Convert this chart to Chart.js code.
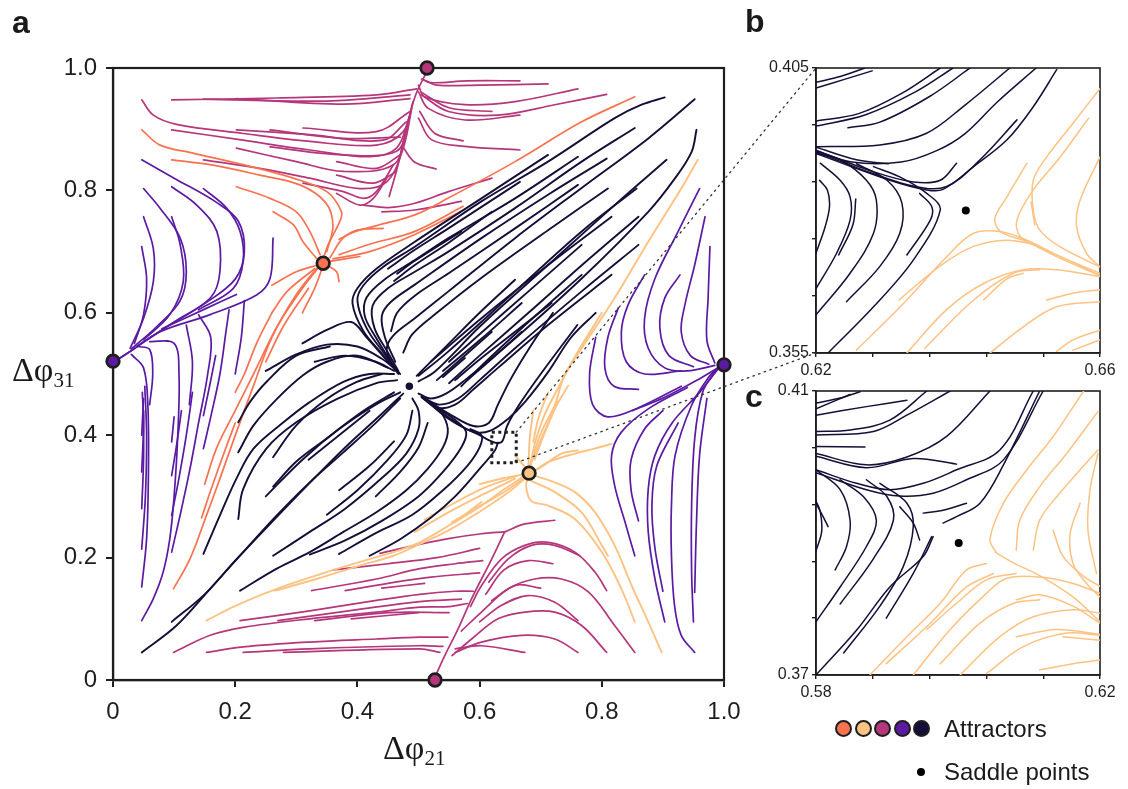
<!DOCTYPE html>
<html>
<head>
<meta charset="utf-8">
<script src="https://cdn.jsdelivr.net/npm/chart.js@4.4.1/dist/chart.umd.min.js"></script>
<style>
  body { margin:0; width:1128px; height:789px; background:#fff; position:relative; overflow:hidden;
         font-family:'Liberation Sans', Arial, sans-serif; color:#1a1a1a; }
  canvas { position:absolute; }
  .panel { position:absolute; font-weight:bold; font-size:32px; line-height:32px; }
  .ttl { position:absolute; font-family:'Liberation Serif', 'Times New Roman', serif; font-size:34px; line-height:34px; white-space:nowrap; }
  .ttl sub { font-size:21px; vertical-align:-6px; line-height:0; }
  .dot { position:absolute; width:13px; height:13px; border-radius:50%; border:2.5px solid #1e1e1e; }
  .leg { position:absolute; font-size:24px; line-height:24px; white-space:nowrap; }
</style>
</head>
<body>
<canvas id="main" width="740" height="789" style="left:0;top:0"></canvas>
<canvas id="zoomB" width="388" height="345" style="left:740px;top:40px"></canvas>
<canvas id="zoomC" width="388" height="345" style="left:740px;top:370px"></canvas>
<canvas id="links" width="1128" height="789" style="left:0;top:0;pointer-events:none"></canvas>

<div class="panel" style="left:12px;top:6px">a</div>
<div class="panel" style="left:745px;top:5px">b</div>
<div class="panel" style="left:745px;top:380px">c</div>
<div class="ttl" style="left:383px;top:731px">Δφ<sub>21</sub></div>
<div class="ttl" style="left:12px;top:353px">Δφ<sub>31</sub></div>

<div id="legend"></div>

<script>
// magma-like basin colours
const COLORS = { orange:'#f97250', light:'#fec283', magenta:'#b5367a', purple:'#5b1aa3', dark:'#150e37' };

// attractors of the main phase portrait
const attractorX = [0.344, 0.681, 0.514, 0.527, 0.0, 1.0, 0.485];
const attractorY = [0.681, 0.338, 1.0, 0.0, 0.521, 0.515, 0.48];
const attractorKind = ['orange', 'light', 'magenta', 'magenta', 'purple', 'purple', 'dark'];

// saddle points shown in the insets
const saddleB = [0.6411, 0.380];
const saddleC = [0.6001, 0.3886];

// inset window drawn in panel a
const insetX = [0.62, 0.66];
const insetY = [0.355, 0.405];

// axis ticks
const mainTicks = [0, 0.2, 0.4, 0.6, 0.8, 1.0];
const bTicksX = [0.62, 0.628, 0.636, 0.644, 0.652, 0.66];
const bTicksY = [0.355, 0.365, 0.375, 0.385, 0.395, 0.405];
const cTicksX = [0.58, 0.588, 0.596, 0.604, 0.612, 0.62];
const cTicksY = [0.37, 0.378, 0.386, 0.394, 0.402, 0.41];

// streamlines, [dphi21, dphi31] points
const magentaTop = [
  [[0.096,0.948],[0.268,0.951],[0.431,0.956],[0.497,0.966]],
  [[0.148,0.949],[0.35,0.946],[0.486,0.956]],
  [[0.202,0.95],[0.377,0.941],[0.486,0.95]],
  [[0.047,0.948],[0.066,0.923],[0.104,0.908],[0.213,0.893],[0.322,0.88],[0.431,0.874],[0.475,0.896],[0.491,0.945]],
  [[0.096,0.899],[0.213,0.882],[0.322,0.866],[0.42,0.855],[0.464,0.869],[0.486,0.923]],
  [[0.202,0.899],[0.322,0.891],[0.442,0.882],[0.48,0.912]],
  [[0.257,0.899],[0.377,0.885],[0.47,0.887]],
  [[0.148,0.85],[0.24,0.836],[0.322,0.82],[0.404,0.803],[0.448,0.814],[0.475,0.869],[0.489,0.934]],
  [[0.202,0.869],[0.3,0.847],[0.377,0.831],[0.459,0.842],[0.48,0.896]],
  [[0.311,0.812],[0.377,0.798],[0.41,0.787],[0.431,0.798],[0.459,0.842]],
  [[0.366,0.795],[0.404,0.776],[0.426,0.787],[0.448,0.82]],
  [[0.257,0.871],[0.377,0.858],[0.464,0.864],[0.483,0.907]],
  [[0.311,0.902],[0.431,0.896],[0.486,0.929]],
  [[0.366,0.847],[0.431,0.836],[0.47,0.858]],
  [[0.366,0.825],[0.426,0.812],[0.464,0.831]],
  [[0.666,0.979],[0.58,0.979],[0.52,0.976],[0.505,0.982]],
  [[0.712,0.974],[0.6,0.972],[0.53,0.972],[0.51,0.98]],
  [[0.761,0.966],[0.658,0.945],[0.576,0.94],[0.51,0.953],[0.5,0.972]],
  [[0.808,0.957],[0.723,0.94],[0.63,0.923],[0.549,0.929],[0.505,0.956]],
  [[0.62,0.929],[0.55,0.935],[0.505,0.96]],
  [[0.666,0.923],[0.576,0.915],[0.516,0.934],[0.5,0.961]],
  [[0.573,0.881],[0.527,0.893],[0.502,0.929]],
  [[0.666,0.866],[0.576,0.872],[0.521,0.883],[0.5,0.918]],
  [[0.62,0.82],[0.549,0.798],[0.494,0.779],[0.45,0.772],[0.41,0.776]],
  [[0.529,0.835],[0.494,0.846],[0.475,0.87]],
  [[0.57,0.782],[0.494,0.768],[0.44,0.765]],
  [[0.452,0.79],[0.466,0.84],[0.48,0.9],[0.495,0.955],[0.514,0.995]]
];

const magentaBottom = [
  [[0.527,0.005],[0.543,0.04],[0.565,0.084],[0.587,0.133],[0.62,0.198],[0.641,0.242]],
  [[0.641,0.242],[0.674,0.255],[0.723,0.261]],
  [[0.437,0.207],[0.494,0.22],[0.549,0.231],[0.603,0.239],[0.641,0.242]],
  [[0.808,0.146],[0.789,0.176],[0.756,0.209],[0.712,0.225],[0.674,0.22],[0.636,0.198],[0.603,0.154],[0.585,0.12]],
  [[0.854,0.045],[0.821,0.089],[0.778,0.144],[0.734,0.165],[0.69,0.165],[0.647,0.149],[0.603,0.111],[0.57,0.08]],
  [[0.808,0.045],[0.767,0.089],[0.723,0.111],[0.674,0.111],[0.63,0.1],[0.587,0.067],[0.555,0.04]],
  [[0.761,0.097],[0.723,0.127],[0.679,0.138],[0.636,0.122],[0.6,0.095]],
  [[0.761,0.045],[0.723,0.067],[0.669,0.073],[0.603,0.062],[0.56,0.045]],
  [[0.764,0.203],[0.723,0.22],[0.685,0.22],[0.647,0.198],[0.615,0.16]],
  [[0.674,0.045],[0.603,0.056],[0.56,0.051]],
  [[0.72,0.19],[0.68,0.195],[0.64,0.18],[0.61,0.14]],
  [[0.7,0.15],[0.66,0.155],[0.62,0.13]],
  [[0.099,0.045],[0.159,0.073],[0.213,0.086],[0.322,0.1],[0.431,0.111],[0.502,0.119],[0.55,0.12],[0.58,0.125]],
  [[0.153,0.045],[0.213,0.054],[0.322,0.062],[0.431,0.067],[0.502,0.07],[0.548,0.07]],
  [[0.213,0.045],[0.322,0.051],[0.502,0.056],[0.54,0.055]],
  [[0.279,0.045],[0.502,0.051],[0.535,0.045]],
  [[0.208,0.097],[0.322,0.113],[0.431,0.13],[0.502,0.14],[0.56,0.145],[0.59,0.145]],
  [[0.27,0.097],[0.4,0.115],[0.502,0.128],[0.57,0.132]],
  [[0.33,0.097],[0.45,0.11],[0.55,0.11]],
  [[0.39,0.1],[0.5,0.11]],
  [[0.325,0.146],[0.431,0.165],[0.502,0.182],[0.56,0.19],[0.605,0.195]],
  [[0.38,0.146],[0.45,0.158],[0.52,0.168],[0.6,0.175]],
  [[0.44,0.15],[0.51,0.158]],
  [[0.36,0.18],[0.45,0.19],[0.53,0.2],[0.6,0.215]]
];

const orangeLines = [
  [[0.047,0.899],[0.077,0.874],[0.131,0.861],[0.213,0.842],[0.295,0.82],[0.35,0.798],[0.374,0.765],[0.371,0.749],[0.352,0.711],[0.344,0.688]],
  [[0.096,0.85],[0.159,0.842],[0.24,0.825],[0.306,0.809],[0.348,0.78],[0.36,0.743],[0.35,0.7]],
  [[0.202,0.806],[0.257,0.787],[0.3,0.765],[0.322,0.733],[0.339,0.695]],
  [[0.262,0.765],[0.295,0.744],[0.311,0.716],[0.333,0.689]],
  [[0.854,0.953],[0.767,0.912],[0.658,0.847],[0.548,0.787],[0.494,0.76],[0.43,0.742],[0.38,0.725],[0.355,0.69]],
  [[0.573,0.774],[0.494,0.733],[0.42,0.712],[0.37,0.695]],
  [[0.57,0.766],[0.494,0.728],[0.42,0.7],[0.36,0.688]],
  [[0.442,0.738],[0.4,0.735],[0.37,0.72]],
  [[0.404,0.692],[0.355,0.684]],
  [[0.099,0.149],[0.126,0.198],[0.153,0.269],[0.175,0.329],[0.202,0.405],[0.23,0.481],[0.26,0.56],[0.3,0.63],[0.335,0.675]],
  [[0.15,0.32],[0.17,0.38],[0.2,0.44],[0.23,0.5],[0.27,0.58],[0.31,0.64],[0.338,0.676]],
  [[0.145,0.265],[0.16,0.31],[0.185,0.38],[0.2,0.42]],
  [[0.2,0.47],[0.215,0.5],[0.235,0.55],[0.26,0.6]],
  [[0.26,0.6],[0.285,0.635],[0.33,0.672]],
  [[0.26,0.645],[0.3,0.667],[0.335,0.678]],
  [[0.37,0.651],[0.366,0.667],[0.35,0.678]],
  [[0.31,0.6],[0.33,0.64],[0.342,0.672]],
  [[0.25,0.52],[0.28,0.58],[0.32,0.64]]
];

const lightLines = [
  [[0.957,0.85],[0.93,0.803],[0.876,0.716],[0.821,0.624],[0.767,0.542],[0.739,0.498],[0.723,0.449],[0.701,0.405],[0.686,0.361],[0.682,0.345]],
  [[0.8,0.6],[0.76,0.535],[0.73,0.48],[0.705,0.43],[0.69,0.385],[0.683,0.35]],
  [[0.153,0.097],[0.202,0.122],[0.268,0.149],[0.333,0.171],[0.404,0.193],[0.459,0.209],[0.502,0.225],[0.549,0.252],[0.603,0.285],[0.641,0.312],[0.674,0.334]],
  [[0.265,0.146],[0.333,0.165],[0.404,0.187],[0.459,0.203],[0.502,0.222],[0.55,0.245],[0.6,0.275],[0.645,0.305],[0.675,0.33]],
  [[0.494,0.242],[0.549,0.274],[0.603,0.302],[0.658,0.329]],
  [[0.51,0.262],[0.56,0.29],[0.61,0.315],[0.66,0.333]],
  [[0.555,0.258],[0.6,0.284],[0.645,0.31],[0.67,0.328]],
  [[0.6,0.32],[0.64,0.33],[0.672,0.336]],
  [[0.688,0.441],[0.682,0.394],[0.68,0.35]],
  [[0.728,0.455],[0.705,0.4],[0.69,0.36]],
  [[0.712,0.47],[0.696,0.427],[0.688,0.389]],
  [[0.745,0.481],[0.723,0.443],[0.701,0.394],[0.685,0.356]],
  [[0.658,0.367],[0.677,0.345]],
  [[0.761,0.375],[0.734,0.37],[0.701,0.348],[0.688,0.34]],
  [[0.816,0.386],[0.788,0.378],[0.756,0.37],[0.712,0.356],[0.69,0.342]],
  [[0.898,0.045],[0.876,0.095],[0.849,0.154],[0.821,0.22],[0.789,0.274],[0.756,0.307],[0.723,0.323],[0.69,0.334]],
  [[0.854,0.095],[0.832,0.149],[0.8,0.209],[0.756,0.263],[0.712,0.285],[0.684,0.293],[0.676,0.318],[0.68,0.333]],
  [[0.81,0.203],[0.8,0.22],[0.767,0.274],[0.723,0.307],[0.685,0.325]],
  [[0.56,0.258],[0.603,0.291]]
];

const purpleLeft = [
  [[0.047,0.85],[0.1,0.82],[0.17,0.78],[0.205,0.75],[0.215,0.7],[0.2,0.655],[0.15,0.615],[0.08,0.572],[0.03,0.538],[0.005,0.522]],
  [[0.05,0.803],[0.077,0.771],[0.11,0.722],[0.12,0.667],[0.11,0.62],[0.07,0.576],[0.03,0.541]],
  [[0.096,0.806],[0.137,0.776],[0.17,0.733],[0.175,0.667],[0.16,0.625],[0.1,0.585],[0.04,0.546]],
  [[0.148,0.803],[0.186,0.771],[0.208,0.733],[0.213,0.684],[0.197,0.64],[0.14,0.605]],
  [[0.05,0.757],[0.066,0.705],[0.066,0.651],[0.05,0.591],[0.028,0.542]],
  [[0.096,0.757],[0.11,0.711],[0.115,0.651],[0.093,0.597],[0.05,0.556]],
  [[0.047,0.708],[0.055,0.656],[0.05,0.597],[0.035,0.55]],
  [[0.262,0.722],[0.257,0.656],[0.235,0.629],[0.159,0.597],[0.077,0.569],[0.028,0.537],[0.005,0.522]],
  [[0.202,0.63],[0.15,0.606],[0.08,0.574]],
  [[0.047,0.152],[0.055,0.231],[0.058,0.34],[0.057,0.45],[0.05,0.51],[0.03,0.532]],
  [[0.047,0.097],[0.066,0.133],[0.082,0.176],[0.093,0.231],[0.1,0.3],[0.106,0.4],[0.108,0.5],[0.1,0.55],[0.06,0.553]],
  [[0.047,0.214],[0.053,0.3],[0.055,0.4],[0.052,0.48]],
  [[0.047,0.28],[0.05,0.36],[0.05,0.44]],
  [[0.047,0.34],[0.05,0.42],[0.048,0.47]],
  [[0.047,0.4],[0.05,0.46]],
  [[0.096,0.209],[0.11,0.27],[0.125,0.34],[0.14,0.42],[0.155,0.5],[0.16,0.56],[0.14,0.597]],
  [[0.096,0.269],[0.108,0.33],[0.12,0.4],[0.13,0.47]],
  [[0.096,0.334],[0.105,0.39],[0.112,0.44]],
  [[0.096,0.389],[0.1,0.43]],
  [[0.148,0.378],[0.16,0.43],[0.175,0.5],[0.185,0.57],[0.19,0.605]],
  [[0.148,0.432],[0.158,0.48],[0.168,0.53]],
  [[0.06,0.45],[0.065,0.5],[0.06,0.54],[0.04,0.545]],
  [[0.125,0.45],[0.13,0.52],[0.12,0.58]],
  [[0.2,0.5],[0.21,0.56],[0.215,0.62]]
];

const purpleRight = [
  [[0.96,0.803],[0.925,0.733],[0.887,0.656],[0.87,0.591],[0.876,0.542],[0.903,0.51],[0.94,0.505],[0.985,0.514]],
  [[0.969,0.757],[0.952,0.678],[0.936,0.613],[0.93,0.569],[0.945,0.53],[0.975,0.516]],
  [[0.977,0.708],[0.974,0.624],[0.972,0.555],[0.985,0.518]],
  [[0.928,0.662],[0.903,0.624],[0.895,0.575],[0.91,0.53],[0.95,0.512]],
  [[0.87,0.662],[0.843,0.613],[0.832,0.569],[0.84,0.52],[0.87,0.5],[0.93,0.505]],
  [[0.827,0.608],[0.81,0.56],[0.805,0.51],[0.82,0.48],[0.86,0.475]],
  [[0.79,0.56],[0.78,0.5],[0.785,0.45],[0.81,0.43],[0.86,0.445],[0.93,0.48]],
  [[0.952,0.045],[0.93,0.073],[0.919,0.122],[0.914,0.203],[0.914,0.285],[0.92,0.367],[0.947,0.449],[0.975,0.495],[0.99,0.51]],
  [[0.95,0.095],[0.947,0.176],[0.947,0.285],[0.952,0.394],[0.965,0.47],[0.985,0.505]],
  [[0.952,0.143],[0.955,0.258],[0.96,0.367],[0.972,0.46]],
  [[0.903,0.095],[0.887,0.165],[0.876,0.242],[0.876,0.312],[0.887,0.367],[0.915,0.42],[0.96,0.47],[0.99,0.508]],
  [[0.9,0.145],[0.887,0.215],[0.882,0.285],[0.89,0.35],[0.925,0.42]],
  [[0.854,0.203],[0.838,0.258],[0.821,0.318],[0.816,0.367],[0.832,0.405],[0.876,0.443],[0.94,0.478]],
  [[0.86,0.26],[0.848,0.31],[0.848,0.36],[0.87,0.41],[0.9,0.44]],
  [[0.85,0.44],[0.903,0.462],[0.963,0.494],[0.995,0.513]]
];

const darkLines = [
  [[0.712,0.858],[0.603,0.787],[0.494,0.716],[0.431,0.672],[0.4,0.64],[0.392,0.615],[0.41,0.57],[0.442,0.531],[0.467,0.5]],
  [[0.903,0.952],[0.865,0.94],[0.821,0.918],[0.712,0.847],[0.603,0.782],[0.494,0.708],[0.442,0.675],[0.41,0.645],[0.4,0.62],[0.415,0.575],[0.445,0.532],[0.467,0.502]],
  [[0.761,0.855],[0.658,0.787],[0.549,0.722],[0.494,0.686],[0.445,0.655],[0.415,0.625],[0.412,0.595],[0.43,0.56],[0.455,0.52]],
  [[0.854,0.902],[0.767,0.847],[0.658,0.771],[0.549,0.7],[0.494,0.667],[0.45,0.64],[0.425,0.612],[0.428,0.575],[0.45,0.535],[0.467,0.505]],
  [[0.666,0.814],[0.549,0.738],[0.494,0.703],[0.45,0.672]],
  [[0.62,0.765],[0.55,0.715],[0.494,0.678],[0.46,0.652]],
  [[0.57,0.733],[0.494,0.685],[0.465,0.664]],
  [[0.808,0.852],[0.712,0.793],[0.603,0.722],[0.494,0.646],[0.455,0.618],[0.44,0.595],[0.445,0.56],[0.462,0.52]],
  [[0.761,0.809],[0.658,0.738],[0.55,0.665],[0.494,0.628],[0.465,0.6],[0.455,0.57]],
  [[0.81,0.803],[0.712,0.735],[0.6,0.655],[0.53,0.6],[0.49,0.565],[0.475,0.535]],
  [[0.952,0.949],[0.876,0.885],[0.767,0.804],[0.658,0.722],[0.549,0.635],[0.494,0.591],[0.458,0.562],[0.448,0.54],[0.458,0.515],[0.47,0.5]],
  [[0.857,0.803],[0.767,0.733],[0.658,0.635],[0.549,0.537],[0.5,0.497]],
  [[0.816,0.757],[0.712,0.678],[0.603,0.591],[0.52,0.52]],
  [[0.906,0.85],[0.821,0.776],[0.712,0.678],[0.603,0.58],[0.527,0.504],[0.5,0.488]],
  [[0.658,0.654],[0.6,0.6],[0.55,0.55],[0.497,0.497]],
  [[0.955,0.899],[0.947,0.863],[0.92,0.82],[0.876,0.765],[0.767,0.656],[0.658,0.558],[0.576,0.49],[0.545,0.468],[0.52,0.46],[0.5,0.468]],
  [[0.86,0.757],[0.77,0.68],[0.68,0.6],[0.6,0.53],[0.55,0.485]],
  [[0.767,0.711],[0.68,0.635],[0.6,0.565],[0.55,0.52]],
  [[0.86,0.711],[0.767,0.635],[0.658,0.542],[0.6,0.49],[0.565,0.46],[0.535,0.45],[0.51,0.46]],
  [[0.767,0.662],[0.68,0.585],[0.61,0.52],[0.57,0.48]],
  [[0.816,0.662],[0.712,0.58],[0.63,0.51],[0.59,0.475],[0.56,0.45],[0.53,0.445],[0.505,0.463]],
  [[0.669,0.616],[0.6,0.555],[0.54,0.505]],
  [[0.718,0.616],[0.658,0.569],[0.603,0.526],[0.56,0.49]],
  [[0.669,0.569],[0.62,0.525],[0.58,0.49]],
  [[0.62,0.569],[0.57,0.525],[0.53,0.49]],
  [[0.576,0.526],[0.54,0.495]],
  [[0.79,0.6],[0.75,0.56],[0.712,0.503],[0.674,0.454],[0.647,0.427],[0.619,0.408],[0.592,0.405],[0.549,0.427],[0.51,0.459]],
  [[0.76,0.58],[0.7,0.5],[0.665,0.45],[0.645,0.415],[0.637,0.39],[0.625,0.388],[0.6,0.4],[0.57,0.415],[0.53,0.443],[0.505,0.462]],
  [[0.72,0.6],[0.68,0.54],[0.65,0.49],[0.63,0.45],[0.615,0.42],[0.59,0.415],[0.55,0.435],[0.51,0.46]],
  [[0.047,0.045],[0.104,0.089],[0.159,0.149],[0.213,0.209],[0.268,0.269],[0.322,0.323],[0.377,0.372],[0.431,0.421],[0.47,0.46]],
  [[0.096,0.095],[0.15,0.14],[0.2,0.195],[0.26,0.258],[0.32,0.32],[0.38,0.38],[0.44,0.435],[0.475,0.468]],
  [[0.148,0.206],[0.175,0.269],[0.202,0.329],[0.23,0.378],[0.279,0.421],[0.322,0.454],[0.377,0.487],[0.42,0.5],[0.46,0.5]],
  [[0.205,0.263],[0.213,0.312],[0.251,0.378],[0.3,0.421],[0.366,0.459],[0.431,0.485],[0.465,0.49]],
  [[0.205,0.372],[0.23,0.416],[0.268,0.459],[0.311,0.498],[0.35,0.52],[0.4,0.53],[0.45,0.51]],
  [[0.205,0.421],[0.224,0.454],[0.251,0.487],[0.3,0.53],[0.355,0.545]],
  [[0.262,0.364],[0.3,0.416],[0.35,0.459],[0.399,0.487],[0.44,0.5]],
  [[0.262,0.316],[0.3,0.357],[0.35,0.395],[0.41,0.44],[0.46,0.47]],
  [[0.208,0.146],[0.268,0.182],[0.322,0.209],[0.377,0.242],[0.431,0.274],[0.48,0.31],[0.515,0.345],[0.54,0.38],[0.548,0.41],[0.535,0.44],[0.51,0.46]],
  [[0.262,0.203],[0.322,0.242],[0.38,0.28],[0.44,0.33],[0.48,0.37],[0.5,0.41],[0.5,0.44],[0.49,0.46]],
  [[0.322,0.205],[0.38,0.228],[0.44,0.26],[0.5,0.3],[0.54,0.34],[0.57,0.38],[0.578,0.405],[0.56,0.425],[0.53,0.445]],
  [[0.37,0.206],[0.43,0.24],[0.49,0.27],[0.54,0.31],[0.58,0.35],[0.6,0.38],[0.603,0.4],[0.585,0.41]],
  [[0.42,0.203],[0.47,0.23],[0.52,0.265],[0.56,0.3],[0.6,0.345],[0.625,0.375],[0.63,0.388]],
  [[0.25,0.3],[0.31,0.36],[0.37,0.41],[0.43,0.45],[0.47,0.47]],
  [[0.35,0.27],[0.4,0.31],[0.45,0.36],[0.48,0.4],[0.49,0.44]],
  [[0.32,0.36],[0.37,0.4],[0.42,0.44]],
  [[0.37,0.31],[0.42,0.35],[0.46,0.39]],
  [[0.43,0.3],[0.47,0.34],[0.5,0.38],[0.515,0.42]],
  [[0.25,0.505],[0.3,0.532],[0.35,0.548],[0.4,0.545],[0.44,0.525],[0.465,0.505]],
  [[0.31,0.55],[0.35,0.572],[0.39,0.585],[0.415,0.56],[0.45,0.52]],
  [[0.33,0.52],[0.38,0.53],[0.43,0.52],[0.46,0.505]]
];

// inset b: 0.62-0.66 x 0.355-0.405
const bDark = [
  [[0.6269,0.405],[0.6234,0.4035],[0.62,0.4025]],
  [[0.6279,0.4045],[0.624,0.403],[0.62,0.4015]],
  [[0.6375,0.405],[0.632,0.4005],[0.626,0.397],[0.62,0.3957]],
  [[0.6393,0.405],[0.634,0.4008],[0.627,0.3968],[0.62,0.3948]],
  [[0.6417,0.405],[0.636,0.4],[0.629,0.3955],[0.6245,0.3945]],
  [[0.6473,0.405],[0.641,0.3985],[0.6355,0.3935],[0.629,0.3915],[0.62,0.3912]],
  [[0.651,0.405],[0.6455,0.399],[0.641,0.3935],[0.637,0.3905],[0.632,0.3885],[0.625,0.3885],[0.62,0.3905]],
  [[0.6539,0.4047],[0.6506,0.3982],[0.6469,0.3924],[0.6422,0.3877],[0.6379,0.3837],[0.6356,0.3836],[0.6304,0.3853],[0.62,0.39]],
  [[0.6483,0.3959],[0.6431,0.3889],[0.6384,0.3842],[0.634,0.3842],[0.628,0.3865],[0.62,0.3903]],
  [[0.6398,0.3883],[0.6375,0.3853],[0.6337,0.385],[0.6281,0.3868],[0.62,0.3906]],
  [[0.6302,0.3882],[0.6257,0.3889],[0.62,0.3911]],
  [[0.62,0.3725],[0.6213,0.3772],[0.6219,0.3807],[0.6216,0.3836],[0.6205,0.3853]],
  [[0.62,0.3663],[0.6229,0.3725],[0.6248,0.3783],[0.6248,0.3824],[0.6234,0.3853],[0.6206,0.3883]],
  [[0.6232,0.3722],[0.6252,0.3775],[0.6256,0.382]],
  [[0.62,0.3617],[0.6248,0.369],[0.6281,0.376],[0.6285,0.3818],[0.6271,0.3853],[0.6234,0.3889],[0.62,0.39]],
  [[0.6243,0.364],[0.629,0.3702],[0.6318,0.376],[0.6321,0.3813],[0.63,0.3853],[0.6257,0.3882]],
  [[0.6217,0.355],[0.6281,0.3631],[0.6337,0.3713],[0.6375,0.3801],[0.6356,0.383],[0.6318,0.3859],[0.6281,0.3877]],
  [[0.6328,0.3722],[0.6361,0.3783],[0.6363,0.3807],[0.6346,0.383]]
];
const bLight = [
  [[0.6257,0.3555],[0.6328,0.3643],[0.6384,0.3719],[0.6422,0.376],[0.6459,0.3763],[0.6497,0.3748],[0.6544,0.3719],[0.66,0.369]],
  [[0.6317,0.3643],[0.6375,0.3703],[0.6422,0.3737],[0.6469,0.3748],[0.651,0.374]],
  [[0.6328,0.355],[0.6384,0.3626],[0.6436,0.3672],[0.6492,0.3696],[0.6539,0.3696],[0.66,0.3684]],
  [[0.6353,0.3558],[0.6422,0.3643],[0.6478,0.369],[0.6515,0.3696]],
  [[0.6436,0.3643],[0.6469,0.368],[0.6492,0.369]],
  [[0.6445,0.355],[0.6492,0.3596],[0.6539,0.3631],[0.66,0.364]],
  [[0.6525,0.3643],[0.6562,0.3655],[0.66,0.3661]],
  [[0.6539,0.3553],[0.6562,0.3573],[0.66,0.359]],
  [[0.6562,0.3555],[0.66,0.3573]],
  [[0.6497,0.3883],[0.6469,0.3824],[0.6452,0.3786],[0.646,0.3763],[0.6497,0.3745],[0.6544,0.3716],[0.66,0.3686]],
  [[0.6584,0.3962],[0.6544,0.3894],[0.6506,0.3836],[0.6483,0.3783],[0.6488,0.3754],[0.6515,0.3736],[0.656,0.371],[0.66,0.3686]],
  [[0.66,0.4014],[0.6562,0.3953],[0.6525,0.3894],[0.6506,0.3853],[0.6506,0.38],[0.6515,0.3766],[0.6544,0.3736],[0.66,0.3701]],
  [[0.66,0.3894],[0.6572,0.3818],[0.6567,0.3772],[0.6581,0.3725],[0.66,0.3701]],
  [[0.6503,0.3815],[0.6508,0.3775]]
];

// inset c: 0.58-0.62 x 0.37-0.41
const cDark = [
  [[0.58,0.4083],[0.5834,0.409],[0.5862,0.4099]],
  [[0.58,0.4075],[0.5848,0.4095]],
  [[0.58,0.4066],[0.5871,0.4078],[0.5928,0.4087]],
  [[0.58,0.4043],[0.5848,0.4045],[0.5904,0.4059],[0.5956,0.41]],
  [[0.58,0.4038],[0.5881,0.4043],[0.5928,0.4066],[0.5989,0.41]],
  [[0.58,0.4022],[0.5869,0.4021]],
  [[0.58,0.4012],[0.5871,0.3996],[0.5928,0.4007],[0.5984,0.4036],[0.6045,0.41]],
  [[0.58,0.4008],[0.5871,0.3992],[0.5937,0.4005],[0.5998,0.3997]],
  [[0.58,0.3989],[0.5857,0.397],[0.5904,0.3961],[0.5951,0.397],[0.5998,0.3989],[0.6059,0.4017],[0.6106,0.41]],
  [[0.58,0.3985],[0.5871,0.3961],[0.5918,0.3952],[0.5965,0.3956],[0.6012,0.3975],[0.6064,0.4003],[0.612,0.41]],
  [[0.5979,0.3914],[0.5998,0.3923],[0.6031,0.3942],[0.6064,0.3996],[0.6115,0.41]],
  [[0.5951,0.3928],[0.5979,0.3932],[0.6012,0.3942]],
  [[0.58,0.3942],[0.581,0.3923],[0.5817,0.3909]],
  [[0.58,0.3875],[0.5808,0.3902],[0.5806,0.393],[0.58,0.3945]],
  [[0.5827,0.3848],[0.5843,0.3881],[0.5848,0.3918],[0.5834,0.3961],[0.58,0.3989]],
  [[0.58,0.3775],[0.5834,0.3824],[0.5871,0.3881],[0.5885,0.3918],[0.5867,0.3951],[0.5834,0.3975]],
  [[0.5834,0.38],[0.5881,0.3864],[0.5909,0.3918],[0.59,0.3951],[0.5871,0.3975]],
  [[0.5839,0.3731],[0.589,0.3797],[0.5923,0.3853],[0.5937,0.3909],[0.5928,0.3942],[0.589,0.397]],
  [[0.5899,0.378],[0.5937,0.3843],[0.5963,0.3895]],
  [[0.58,0.37],[0.5857,0.3763],[0.5904,0.3824],[0.5951,0.3867],[0.5965,0.3895]],
  [[0.5918,0.3937],[0.5937,0.3914],[0.5946,0.389]]
];
const cLight = [
  [[0.5876,0.37],[0.5928,0.3754],[0.5975,0.3801],[0.6012,0.3848],[0.604,0.3857]],
  [[0.5899,0.3716],[0.5961,0.3773],[0.6012,0.3824],[0.605,0.3843]],
  [[0.5937,0.37],[0.5989,0.3764],[0.604,0.3815],[0.6068,0.3836],[0.6115,0.3838],[0.6162,0.3829],[0.62,0.3815]],
  [[0.5956,0.3764],[0.5998,0.3801],[0.604,0.3834],[0.6082,0.3843]],
  [[0.5975,0.3716],[0.6031,0.3773],[0.6078,0.3801],[0.6115,0.3806]],
  [[0.6003,0.37],[0.6059,0.3754],[0.6106,0.3782],[0.6162,0.3792],[0.62,0.3787]],
  [[0.604,0.3702],[0.6092,0.374],[0.6153,0.3759],[0.62,0.3756]],
  [[0.6082,0.3754],[0.6139,0.3764],[0.62,0.3757]],
  [[0.6115,0.3707],[0.6162,0.3716],[0.62,0.3721]],
  [[0.6148,0.3754],[0.62,0.3749]],
  [[0.6082,0.3806],[0.6115,0.3813],[0.6162,0.3797],[0.62,0.3773]],
  [[0.6054,0.3872],[0.6045,0.3891],[0.6064,0.3942],[0.6097,0.3989],[0.6134,0.4036],[0.6177,0.41]],
  [[0.6054,0.3872],[0.6078,0.3858],[0.6115,0.384],[0.6162,0.381],[0.62,0.3775]],
  [[0.6082,0.3876],[0.6087,0.3918],[0.6115,0.3965],[0.6153,0.4012],[0.6197,0.4071]],
  [[0.6106,0.3876],[0.6115,0.3918],[0.6139,0.3951],[0.6172,0.3989],[0.6197,0.4017]],
  [[0.6134,0.3904],[0.6148,0.3867],[0.6177,0.3839],[0.62,0.3825]],
  [[0.6172,0.3942],[0.6158,0.3899],[0.6162,0.3857],[0.6181,0.3829],[0.62,0.381]],
  [[0.6197,0.4012],[0.6186,0.3961],[0.6183,0.3904],[0.6195,0.3843]]
];

const SANS = "'Liberation Sans', Arial, sans-serif";
const INK = '#1e1e1e';

function lineSets(lines, color, width) {
  return lines.map(pts => ({
    data: pts.map(p => ({ x: p[0], y: p[1] })),
    showLine: true, borderColor: color, borderWidth: width,
    pointRadius: 0, pointHoverRadius: 0, tension: 0.35, order: 2,
    borderCapStyle: 'round', borderJoinStyle: 'round'
  }));
}

// box around the plot area (axes only draw left/bottom)
const framePlugin = {
  id: 'frame',
  beforeDatasetsDraw(chart, args, opts) {
    const a = chart.chartArea, c = chart.ctx;
    c.save();
    c.strokeStyle = INK; c.lineWidth = opts.width || 2;
    c.strokeRect(a.left, a.top, a.right - a.left, a.bottom - a.top);
    c.restore();
  }
};

// dotted window marking the inset region
const insetPlugin = {
  id: 'inset',
  afterDatasetsDraw(chart) {
    const sx = chart.scales.x, sy = chart.scales.y, c = chart.ctx;
    const x0 = sx.getPixelForValue(insetX[0]), x1 = sx.getPixelForValue(insetX[1]);
    const y0 = sy.getPixelForValue(insetY[1]), y1 = sy.getPixelForValue(insetY[0]);
    c.save();
    c.strokeStyle = INK; c.lineWidth = 3; c.setLineDash([3, 3.5]);
    c.strokeRect(x0, y0, x1 - x0, y1 - y0);
    c.restore();
  }
};

function axis(min, max, ticks, labels, size, tickLen, pad, fit) {
  return {
    type: 'linear', min: min, max: max,
    afterBuildTicks: s => { s.ticks = ticks.map(v => ({ value: v })); },
    afterFit: s => { fit(s); s.paddingLeft = 0; s.paddingRight = 0; s.paddingTop = 0; s.paddingBottom = 0; },
    ticks: {
      autoSkip: false, maxRotation: 0, padding: pad, color: INK,
      font: { family: SANS, size: size },
      callback: (v, i) => labels[i]
    },
    grid: { drawOnChartArea: false, drawTicks: true, tickLength: tickLen, color: INK, lineWidth: size > 20 ? 2 : 1.4 },
    border: { color: INK, width: size > 20 ? 2.2 : 1.6 }
  };
}

function baseOptions(padding, scales, frameWidth) {
  return {
    responsive: false, animation: false, events: [],
    layout: { padding: padding },
    plugins: { legend: { display: false }, tooltip: { enabled: false }, frame: { width: frameWidth } },
    scales: scales
  };
}

// panel a
const attractorSets = attractorX.map((x, i) => {
  const kind = attractorKind[i];
  const isDark = kind === 'dark';
  return {
    data: [{ x: x, y: attractorY[i] }], showLine: false, clip: false, order: 0,
    pointRadius: isDark ? 5 : 6.3, pointHoverRadius: 0,
    pointBackgroundColor: COLORS[kind],
    pointBorderColor: isDark ? '#ffffff' : INK,
    pointBorderWidth: isDark ? 2.5 : 2.7
  };
});

const mainChart = new Chart(document.getElementById('main'), {
  type: 'scatter',
  data: {
    datasets: [].concat(
      attractorSets,
      lineSets(darkLines, COLORS.dark, 1.9),
      lineSets(lightLines, COLORS.light, 1.9),
      lineSets(orangeLines, COLORS.orange, 1.7),
      lineSets(magentaTop, COLORS.magenta, 1.7),
      lineSets(magentaBottom, COLORS.magenta, 1.7),
      lineSets(purpleLeft, COLORS.purple, 1.7),
      lineSets(purpleRight, COLORS.purple, 1.7)
    )
  },
  options: baseOptions({ top: 68, right: 16, left: 0, bottom: 0 }, {
    x: axis(0, 1, mainTicks, ['0', '0.2', '0.4', '0.6', '0.8', '1.0'], 24, 7, 11, s => { s.height = 109; }),
    y: axis(0, 1, mainTicks, ['0', '0.2', '0.4', '0.6', '0.8', '1.0'], 24, 7, 9, s => { s.width = 113; })
  }, 2.2),
  plugins: [framePlugin, insetPlugin]
});

// panels b and c
function insetChart(id, dark, light, saddle, tx, ty, lx, ly, pad, xh) {
  return new Chart(document.getElementById(id), {
    type: 'scatter',
    data: {
      datasets: [].concat(
        [{ data: [{ x: saddle[0], y: saddle[1] }], showLine: false, order: 0,
           pointRadius: 4, pointHoverRadius: 0, pointBackgroundColor: '#000', pointBorderWidth: 0 }],
        lineSets(dark, COLORS.dark, 1.5),
        lineSets(light, COLORS.light, 1.5)
      )
    },
    options: baseOptions(pad, {
      x: axis(tx[0], tx[tx.length - 1], tx, lx, 16, 4, 4, s => { s.height = xh; }),
      y: axis(ty[0], ty[ty.length - 1], ty, ly, 16, 4, 3, s => { s.width = 76; })
    }, 1.6),
    plugins: [framePlugin]
  });
}

const chartB = insetChart('zoomB', bDark, bLight, saddleB, bTicksX, bTicksY,
  ['0.62', '', '', '', '', '0.66'], ['0.355', '', '', '', '', '0.405'],
  { top: 28, right: 28, left: 0, bottom: 0 }, 32);
const chartC = insetChart('zoomC', cDark, cLight, saddleC, cTicksX, cTicksY,
  ['0.58', '', '', '', '', '0.62'], ['0.37', '', '', '', '', '0.41'],
  { top: 21, right: 28, left: 0, bottom: 0 }, 40);

// dotted leader lines from the window in panel a to inset b
(function drawLinks() {
  const c = document.getElementById('links').getContext('2d');
  const bOff = [740, 40];
  const ends = [insetY[1], insetY[0]].map(yv => [
    [mainChart.scales.x.getPixelForValue(insetX[1]), mainChart.scales.y.getPixelForValue(yv)],
    [bOff[0] + chartB.scales.x.getPixelForValue(insetX[0]), bOff[1] + chartB.scales.y.getPixelForValue(yv)]
  ]);
  c.strokeStyle = '#333'; c.lineWidth = 1.3; c.setLineDash([1.5, 4.5]); c.lineCap = 'round';
  ends.forEach(([p, q]) => { c.beginPath(); c.moveTo(p[0], p[1]); c.lineTo(q[0], q[1]); c.stroke(); });
})();

// legend
(function buildLegend() {
  const box = document.getElementById('legend');
  ['orange', 'light', 'magenta', 'purple', 'dark'].forEach((k, i) => {
    const d = document.createElement('div');
    d.className = 'dot';
    d.style.left = (835 + i * 19.5) + 'px'; d.style.top = '720px';
    d.style.background = COLORS[k];
    box.appendChild(d);
  });
  const s = document.createElement('div');
  s.className = 'dot';
  Object.assign(s.style, { left: '917px', top: '768px', width: '8px', height: '8px', border: 'none', background: '#000' });
  box.appendChild(s);
  const t1 = document.createElement('div');
  t1.className = 'leg'; t1.style.left = '944px'; t1.style.top = '717px'; t1.textContent = 'Attractors';
  const t2 = document.createElement('div');
  t2.className = 'leg'; t2.style.left = '944px'; t2.style.top = '760px'; t2.textContent = 'Saddle points';
  box.appendChild(t1); box.appendChild(t2);
})();
</script>
</body>
</html>
